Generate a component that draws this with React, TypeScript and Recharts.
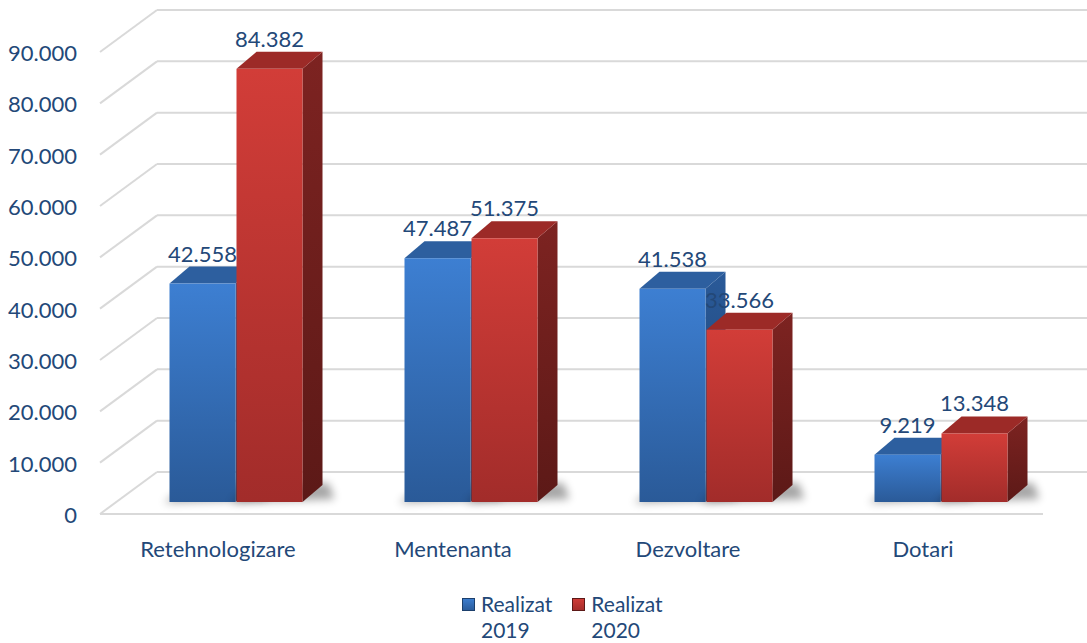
import { BarChart, Bar, XAxis, YAxis, CartesianGrid, LabelList, Legend } from 'recharts';

const categories = ['Retehnologizare', 'Mentenanta', 'Dezvoltare', 'Dotari'];
const realizat2019 = [42558, 47487, 41538, 9219];
const realizat2020 = [84382, 51375, 33566, 13348];
const yTicks = [0, 10000, 20000, 30000, 40000, 50000, 60000, 70000, 80000, 90000];
const seriesNames = ['Realizat 2019', 'Realizat 2020'];

const data = categories.map((name, i) => ({
  name,
  r2019: realizat2019[i],
  r2020: realizat2020[i],
}));

const FONT = 'Lato, "Open Sans", sans-serif';
const TEXT = '#234878';
const DX = 20;
const DY = 17;

const palettes = [
  { id: 'b', top: '#2d5f9f', frontA: '#3d7fd2', frontB: '#2a5a98', sideA: '#2a5a99', sideB: '#1c3f6c' },
  { id: 'r', top: '#9c2a27', frontA: '#d23d38', frontB: '#a22c2a', sideA: '#7d2321', sideB: '#5c1917' },
];

const fmt = (v: number) => String(v).replace(/\B(?=(\d{3})+(?!\d))/g, '.');

function makeShape(p: (typeof palettes)[number]) {
  return (props: any) => {
    const { x, y, width: w, height: h } = props;
    if (!h || h <= 0) return <g />;
    const b = y + h;
    return (
      <g>
        <defs>
          <linearGradient id={`front-${p.id}`} x1="0" y1="0" x2="0" y2="1">
            <stop offset="0%" stopColor={p.frontA} />
            <stop offset="100%" stopColor={p.frontB} />
          </linearGradient>
          <linearGradient id={`side-${p.id}`} x1="0" y1="0" x2="0" y2="1">
            <stop offset="0%" stopColor={p.sideA} />
            <stop offset="100%" stopColor={p.sideB} />
          </linearGradient>
          <filter id="shadowBlur" x="-20%" y="-100%" width="140%" height="300%">
            <feGaussianBlur stdDeviation="4" />
          </filter>
        </defs>
        <polygon
          points={`${x - 6},${b + 1} ${x + w + DX + 12},${b - 3} ${x + w + DX + 6},${b - DY - 2} ${x + DX},${b - DY}`}
          fill="#000"
          opacity={0.35}
          filter="url(#shadowBlur)"
        />
        <polygon
          points={`${x + w},${y} ${x + w + DX},${y - DY} ${x + w + DX},${b - DY} ${x + w},${b}`}
          fill={`url(#side-${p.id})`}
        />
        <polygon
          points={`${x},${y} ${x + DX},${y - DY} ${x + w + DX},${y - DY} ${x + w},${y}`}
          fill={p.top}
        />
        <rect x={x} y={y} width={w} height={h} fill={`url(#front-${p.id})`} />
      </g>
    );
  };
}

const valueLabel = (props: any) => {
  const { x, y, width, value } = props;
  return (
    <text x={x + width / 2} y={y - 22} textAnchor="middle" fill={TEXT} fontSize={22} fontFamily={FONT}>
      {fmt(value)}
    </text>
  );
};

const gridLine = (props: any) => {
  const { y1, index } = props;
  const front = y1 + 12;
  const back = y1 - 30;
  return (
    <g key={`g-${index}`}>
      <line x1={100} y1={front} x2={157} y2={back} stroke="#d9d9d9" strokeWidth={2} />
      <line x1={157} y1={back} x2={1087} y2={back} stroke="#d9d9d9" strokeWidth={2} />
      {index === 0 && <line x1={100} y1={front} x2={1043} y2={front} stroke="#d9d9d9" strokeWidth={2} />}
    </g>
  );
};

const yTick = (props: any) => {
  const { y, payload } = props;
  return (
    <text x={77} y={y + 21} textAnchor="end" fill={TEXT} fontSize={22} fontFamily={FONT}>
      {fmt(payload.value)}
    </text>
  );
};

const xTick = (props: any) => {
  const { x, y, payload } = props;
  return (
    <text x={x - 18} y={y + 47} textAnchor="middle" fill={TEXT} fontSize={22} fontFamily={FONT}>
      {payload.value}
    </text>
  );
};

const legendContent = () => (
  <div style={{ display: 'flex', gap: 20, fontFamily: FONT, fontSize: 21, color: TEXT, lineHeight: '26px' }}>
    {seriesNames.map((s, i) => {
      const [word, year] = s.split(' ');
      const p = palettes[i];
      return (
        <div key={s} style={{ display: 'flex', alignItems: 'flex-start' }}>
          <div
            style={{
              width: 13,
              height: 13,
              marginTop: 7,
              marginRight: 6,
              background: `linear-gradient(${p.frontA}, ${p.frontB})`,
              boxShadow: `inset 0 0 0 1px ${p.sideB}`,
            }}
          />
          <div>
            <div>{word}</div>
            <div>{year}</div>
          </div>
        </div>
      );
    })}
  </div>
);

export default function App() {
  return (
    <div style={{ position: 'absolute', left: 0, top: 0, background: '#fff' }}>
      <BarChart
        width={1087}
        height={643}
        data={data}
        barSize={66}
        barGap={1}
        margin={{ top: 40, right: 28.5, bottom: 101, left: 58.5 }}
      >
        <CartesianGrid vertical={false} horizontal={gridLine} />
        <XAxis dataKey="name" height={40} axisLine={false} tickLine={false} tick={xTick} interval={0} />
        <YAxis
          width={60}
          domain={[0, 90000]}
          ticks={yTicks}
          axisLine={false}
          tickLine={false}
          tick={yTick}
          interval={0}
        />
        <Legend
          layout="vertical"
          align="center"
          verticalAlign="middle"
          content={legendContent}
          wrapperStyle={{ position: 'absolute', left: 462, top: 591, width: 300 }}
        />
        <Bar dataKey="r2019" name={seriesNames[0]} fill={palettes[0].frontA} shape={makeShape(palettes[0])} isAnimationActive={false}>
          <LabelList dataKey="r2019" content={valueLabel} />
        </Bar>
        <Bar dataKey="r2020" name={seriesNames[1]} fill={palettes[1].frontA} shape={makeShape(palettes[1])} isAnimationActive={false}>
          <LabelList dataKey="r2020" content={valueLabel} />
        </Bar>
      </BarChart>
    </div>
  );
}
